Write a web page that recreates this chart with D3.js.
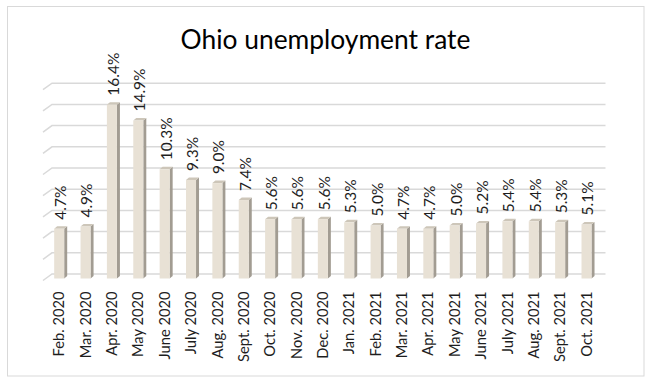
<!DOCTYPE html>
<html><head><meta charset="utf-8">
<script src="https://cdn.jsdelivr.net/npm/d3@7"></script>
<style>html,body{margin:0;padding:0;background:#fff;}svg{display:block;}</style>
</head><body>
<svg id="c" width="652" height="382"></svg>
<script>
const title = "Ohio unemployment rate";
const categories = ["Feb. 2020","Mar. 2020","Apr. 2020","May 2020","June 2020","July 2020","Aug. 2020","Sept. 2020","Oct. 2020","Nov. 2020","Dec. 2020","Jan. 2021","Feb. 2021","Mar. 2021","Apr. 2021","May 2021","June 2021","July 2021","Aug. 2021","Sept. 2021","Oct. 2021"];
const values = [4.7,4.9,16.4,14.9,10.3,9.3,9.0,7.4,5.6,5.6,5.6,5.3,5.0,4.7,4.7,5.0,5.2,5.4,5.4,5.3,5.1];
const gridValues = [0,2,4,6,8,10,12,14,16,18];

const svg = d3.select("#c");
const FONT = "Lato, 'Open Sans', sans-serif";

// frame
svg.append("rect").attr("x",7.5).attr("y",6.5).attr("width",636.5).attr("height",369.5)
  .attr("fill","#fff").attr("stroke","#d9d9d9").attr("stroke-width",1);

const y0 = 278.5;
const y = d3.scaleLinear().domain([0,18]).range([y0, y0-190.8]);
const x = d3.scaleBand().domain(categories).range([46,599.7]).paddingInner(0.62).paddingOuter(0.31);

// back wall offset and bar depth
const wall = {dx:6, dy:-4.5};
const depth = {dx:3, dy:-2.5};

// fit helper
function fitSize(str, target){
  const t = svg.append("text").style("font-family",FONT).style("font-size","100px").text(str);
  const len = t.node().getComputedTextLength();
  t.remove();
  return 100*target/len;
}
const titleSize = fitSize(title, 290);
const catSize = fitSize("Feb. 2020", 65);
const valSize = fitSize("16.4%", 43);

// gridlines
const g = svg.append("g").attr("stroke","#d9d9d9").attr("stroke-width",1.5).attr("fill","none");
gridValues.forEach(v=>{
  const yy = y(v)+wall.dy;
  g.append("path").attr("d", `M43,${yy+6.5}L52,${yy}L605.5,${yy}`);
});

// bars
const bars = svg.append("g");
values.forEach((v,i)=>{
  const bx = x(categories[i]), bw = x.bandwidth(), top = y(v);
  // side
  bars.append("path").attr("fill","#a29c92")
    .attr("d",`M${bx+bw},${top}L${bx+bw+depth.dx},${top+depth.dy}L${bx+bw+depth.dx},${y0+depth.dy}L${bx+bw},${y0}Z`);
  // top
  bars.append("path").attr("fill","#cdc6b9")
    .attr("d",`M${bx},${top}L${bx+depth.dx},${top+depth.dy}L${bx+bw+depth.dx},${top+depth.dy}L${bx+bw},${top}Z`);
  // front
  bars.append("rect").attr("x",bx).attr("y",top).attr("width",bw).attr("height",y0-top).attr("fill","#e8e1d5");
});

// value labels
svg.append("g").selectAll("text").data(values).join("text")
  .attr("transform",(d,i)=>`translate(${x(categories[i])+x.bandwidth()/2+1.5},${y(d)-9}) rotate(-90)`)
  .attr("dy","0.35em")
  .style("font-family",FONT).style("font-size",valSize+"px").attr("fill","#1e1e1e")
  .text(d=>d.toFixed(1)+"%");

// category labels
svg.append("g").selectAll("text").data(categories).join("text")
  .attr("transform",d=>`translate(${x(d)+x.bandwidth()/2},291.5) rotate(-90)`)
  .attr("dy","0.35em").attr("text-anchor","end")
  .style("font-family",FONT).style("font-size",catSize+"px").attr("fill","#1e1e1e")
  .text(d=>d);

// title
svg.append("text").attr("x",325.5).attr("y",49).attr("text-anchor","middle")
  .style("font-family",FONT).style("font-size",titleSize+"px").attr("fill","#000")
  .text(title);
</script>
</body></html>
